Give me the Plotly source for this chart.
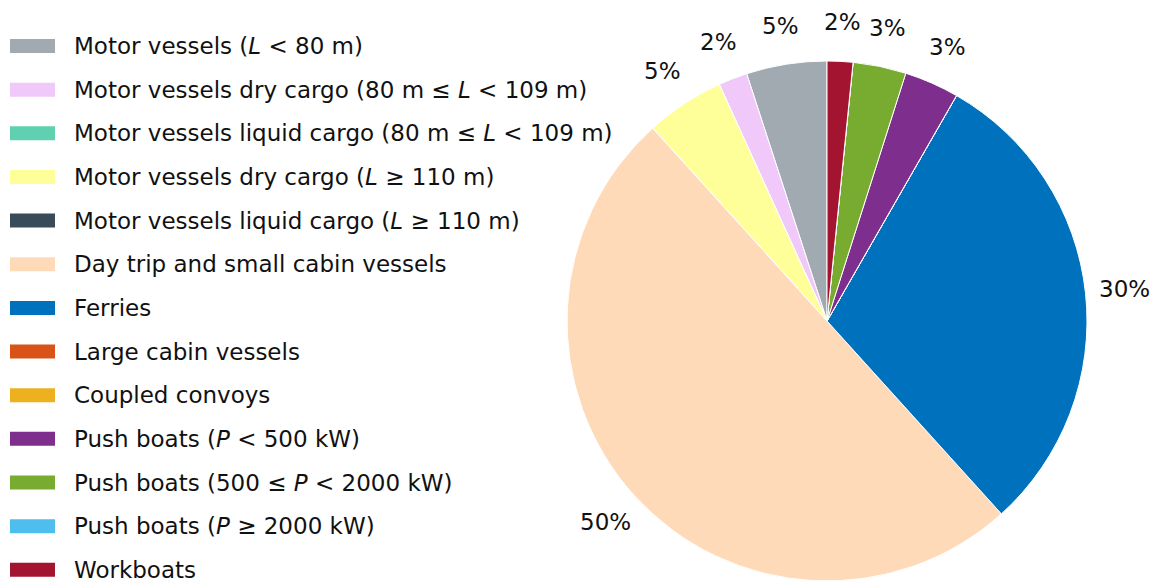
import math
import plotly.graph_objects as go

categories = [
    "Motor vessels (<i>L</i> &lt; 80 m)",
    "Motor vessels dry cargo (80 m ≤ <i>L</i> &lt; 109 m)",
    "Motor vessels liquid cargo (80 m ≤ <i>L</i> &lt; 109 m)",
    "Motor vessels dry cargo (<i>L</i> ≥ 110 m)",
    "Motor vessels liquid cargo (<i>L</i> ≥ 110 m)",
    "Day trip and small cabin vessels",
    "Ferries",
    "Large cabin vessels",
    "Coupled convoys",
    "Push boats (<i>P</i> &lt; 500 kW)",
    "Push boats (500 ≤ <i>P</i> &lt; 2000 kW)",
    "Push boats (<i>P</i> ≥ 2000 kW)",
    "Workboats",
]
shares = [5.0, 1.8, 0.0, 4.9, 0.0, 50.0, 30.0, 0.0, 0.0, 3.4, 3.3, 0.0, 1.6]
colors = ["#A0AAB0", "#F0C8FA", "#5FD0B0", "#FFFF99", "#394B58", "#FFDAB9",
          "#0072BD", "#D95319", "#EDB120", "#7E2F8E", "#77AC30", "#4DBEEE", "#A2142F"]

W, H = 1156, 581
FONT = "DejaVu Sans"
FS = 23

# pie geometry (pixels)
cx_px, cy_px, R_px = 827, 321, 260

total = sum(shares)
fig = go.Figure()
fig.add_trace(go.Pie(
    labels=categories, values=shares, sort=False, direction="counterclockwise",
    rotation=-shares[0] / total * 360,
    marker=dict(colors=colors, line=dict(color="white", width=1)),
    textinfo="none", hoverinfo="label+percent", showlegend=False,
    domain=dict(x=[(cx_px - R_px) / W, (cx_px + R_px) / W],
                y=[1 - (cy_px + R_px) / H, 1 - (cy_px - R_px) / H]),
))

annotations = []
shapes = []
cum = 0.0
for v in shares:
    if v > 0:
        mid = (cum + v / 2) / total * 2 * math.pi
        r = 1.15 * R_px
        x_px = cx_px - r * math.sin(mid)
        y_px = cy_px - r * math.cos(mid)
        annotations.append(dict(
            x=x_px / W, y=1 - y_px / H, xref="paper", yref="paper",
            text=f"{round(v / total * 100):.0f}%", showarrow=False,
            xanchor="center", yanchor="middle",
            font=dict(family=FONT, size=FS, color="#111111")))
    cum += v

# legend
row0, step = 46, 43.65
for i, (lab, col) in enumerate(zip(categories, colors)):
    yc = row0 + step * i
    shapes.append(dict(type="rect", xref="paper", yref="paper",
                       x0=10 / W, x1=55 / W, y0=1 - (yc - 7) / H, y1=1 - (yc + 7) / H,
                       fillcolor=col, line=dict(width=0)))
    annotations.append(dict(
        x=73 / W, y=1 - yc / H, xref="paper", yref="paper", text=lab,
        showarrow=False, xanchor="left", yanchor="middle", borderpad=0,
        font=dict(family=FONT, size=FS, color="#111111")))

fig.update_layout(
    width=W, height=H, margin=dict(l=0, r=0, t=0, b=0),
    paper_bgcolor="white", plot_bgcolor="white",
    annotations=annotations, shapes=shapes, showlegend=False,
    font=dict(family=FONT),
)
fig.write_html("out.html", config={"displayModeBar": False},
               post_script="document.body.style.margin='0px';document.body.style.overflow='hidden';")
